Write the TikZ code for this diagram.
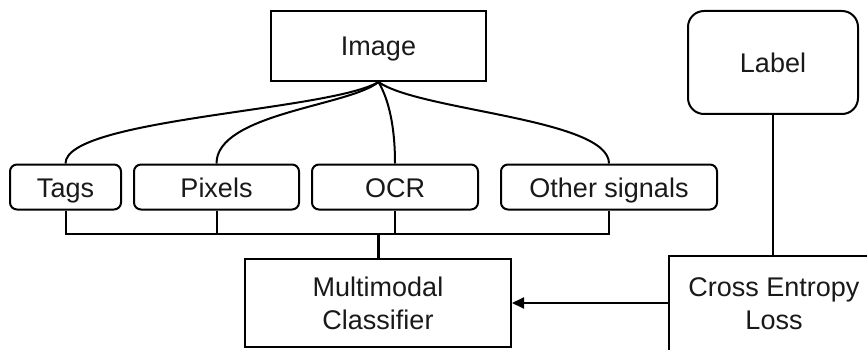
\documentclass[tikz,border=0pt]{standalone}
\usepackage{fontspec}
\setmainfont{Liberation Sans}
\usetikzlibrary{arrows.meta,calc}
\begin{document}
\begin{tikzpicture}[x=1pt,y=1pt,
  every node/.style={font=\fontsize{27}{33}\selectfont, text=black!90, align=center, inner sep=0pt},
  oneline/.style={text height=20pt, text depth=0pt},
  sqbox/.style={draw, line width=2pt, rectangle},
  sigbox/.style={draw, line width=2pt, rectangle, rounded corners=7pt, minimum height=45pt, oneline},
  conn/.style={line width=2pt},
]
\useasboundingbox (0,0) rectangle (867,-350);
\node[sqbox, oneline, minimum width=215pt, minimum height=70pt] (img) at (378.5,-46) {Image};
\node[sqbox, oneline, rounded corners=16pt, minimum width=170pt, minimum height=103pt] (lab) at (773,-62.5) {Label};
\node[sigbox, minimum width=111pt] (tags) at (65.5,-187) {Tags};
\node[sigbox, minimum width=165pt] (pix) at (216.5,-187) {Pixels};
\node[sigbox, minimum width=166pt] (ocr) at (395,-187) {OCR};
\node[sigbox, minimum width=216pt] (oth) at (609,-187) {Other signals};
\node[sqbox, minimum width=266pt, minimum height=88pt] (mc) at (378,-303) {Multimodal\\Classifier};
\node[sqbox, minimum width=210pt, minimum height=96pt] (ce) at (774,-304) {Cross Entropy\\Loss};
\coordinate (bus) at (378,-234);
\draw[conn] (img.south) .. controls +(-49,-29) and +(0,45) .. (tags.north);
\draw[conn] (img.south) .. controls +(-29,-24) and +(0,50) .. (pix.north);
\draw[conn] (img.south) .. controls +(11,-19) and +(0,35) .. (ocr.north);
\draw[conn] (img.south) .. controls +(41,-29) and +(0,45) .. (oth.north);
\draw[conn] (tags.south) |- (bus) -| (oth.south);
\draw[conn] (pix.south) -- (pix.south |- bus);
\draw[conn] (ocr.south) -- (ocr.south |- bus);
\draw[line width=3pt] (bus) -- (mc.north);
\draw[conn] (lab.south) -- (ce.north -| lab.south);
\draw[conn, -{Triangle[length=12pt,width=11pt]}] (ce.west |- mc.east) -- (mc.east);
\end{tikzpicture}
\end{document}
